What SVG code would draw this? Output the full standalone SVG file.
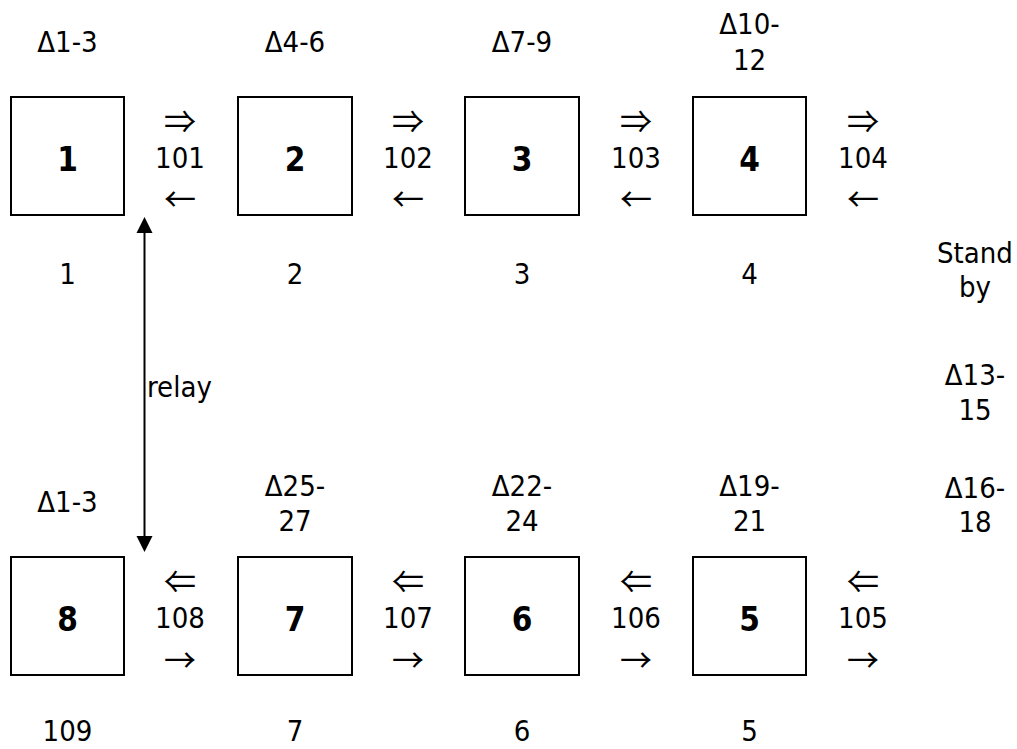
<svg xmlns="http://www.w3.org/2000/svg" width="1017" height="749" viewBox="0 0 1017 749">
<style>
text{font-family:"DejaVu Sans Condensed","DejaVu Sans",sans-serif;font-stretch:condensed;font-size:29px;fill:#000;text-anchor:middle}
.num{font-weight:bold;font-size:33px}
.arr{font-size:32px;font-stretch:normal;font-family:"Noto Sans CJK JP","DejaVu Sans",sans-serif}
.box{fill:#fff;stroke:#000;stroke-width:2}
.lbl{text-anchor:start}
</style>
<rect width="1017" height="749" fill="#fff"/>
<g id="connectors">
<line x1="144.5" y1="232" x2="144.5" y2="537" stroke="#000" stroke-width="2"/>
<path d="M144.5,217 L136.5,233 L152.5,233 z" fill="#000"/>
<path d="M144.5,552 L136.5,536 L152.5,536 z" fill="#000"/>
<text class="lbl" x="147" y="397">relay</text>
</g>
<g id="node1"><rect class="box" x="11" y="97" width="113" height="118"/><text class="num" x="67.5" y="171">1</text><text x="67.5" y="52">Δ1-3</text><text x="67.5" y="284">1</text></g>
<g id="node2"><rect class="box" x="238" y="97" width="114" height="118"/><text class="num" x="295" y="171">2</text><text x="295" y="52">Δ4-6</text><text x="295" y="284">2</text></g>
<g id="node3"><rect class="box" x="465" y="97" width="114" height="118"/><text class="num" x="522" y="171">3</text><text x="522" y="52">Δ7-9</text><text x="522" y="284">3</text></g>
<g id="node4"><rect class="box" x="693" y="97" width="113" height="118"/><text class="num" x="749.5" y="171">4</text><text x="749.5" y="34">Δ10-</text><text x="749.5" y="70">12</text><text x="749.5" y="284">4</text></g>
<g id="node8"><rect class="box" x="11" y="557" width="113" height="118"/><text class="num" x="67.5" y="631">8</text><text x="67.5" y="512">Δ1-3</text><text x="67.5" y="741">109</text></g>
<g id="node7"><rect class="box" x="238" y="557" width="114" height="118"/><text class="num" x="295" y="631">7</text><text x="295" y="496">Δ25-</text><text x="295" y="531">27</text><text x="295" y="741">7</text></g>
<g id="node6"><rect class="box" x="465" y="557" width="114" height="118"/><text class="num" x="522" y="631">6</text><text x="522" y="496">Δ22-</text><text x="522" y="531">24</text><text x="522" y="741">6</text></g>
<g id="node5"><rect class="box" x="693" y="557" width="113" height="118"/><text class="num" x="749.5" y="631">5</text><text x="749.5" y="496">Δ19-</text><text x="749.5" y="531">21</text><text x="749.5" y="741">5</text></g>
<g id="links">
<text class="arr" x="180" y="133">⇒</text><text x="180" y="168">101</text><text class="arr" x="180" y="211">←</text>
<text class="arr" x="408" y="133">⇒</text><text x="408" y="168">102</text><text class="arr" x="408" y="211">←</text>
<text class="arr" x="636" y="133">⇒</text><text x="636" y="168">103</text><text class="arr" x="636" y="211">←</text>
<text class="arr" x="863" y="133">⇒</text><text x="863" y="168">104</text><text class="arr" x="863" y="211">←</text>
<text class="arr" x="180" y="593">⇐</text><text x="180" y="628">108</text><text class="arr" x="180" y="672">→</text>
<text class="arr" x="408" y="593">⇐</text><text x="408" y="628">107</text><text class="arr" x="408" y="672">→</text>
<text class="arr" x="636" y="593">⇐</text><text x="636" y="628">106</text><text class="arr" x="636" y="672">→</text>
<text class="arr" x="863" y="593">⇐</text><text x="863" y="628">105</text><text class="arr" x="863" y="672">→</text>
</g>
<g id="standby">
<text x="975" y="263">Stand</text><text x="975" y="297">by</text>
<text x="975" y="385">Δ13-</text><text x="975" y="420">15</text>
<text x="975" y="498">Δ16-</text><text x="975" y="532">18</text>
</g>
</svg>
